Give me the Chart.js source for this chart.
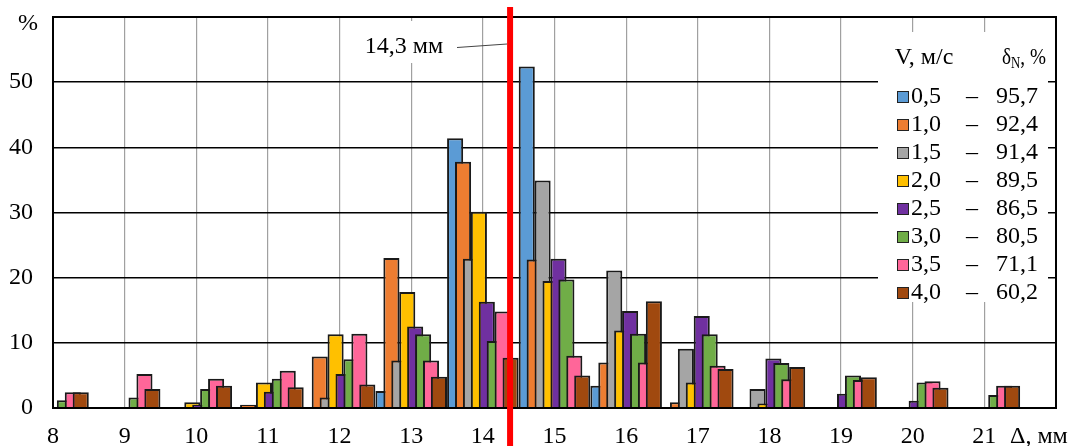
<!DOCTYPE html>
<html>
<head>
<meta charset="utf-8">
<script src="https://cdn.jsdelivr.net/npm/chart.js@4.4.0/dist/chart.umd.min.js"></script>
<style>
    html, body { margin: 0; padding: 0; background: #fff; }
    #wrap { width: 1075px; height: 446px; }
</style>
</head>
<body>
<div id="wrap"><canvas id="chart" width="1075" height="446"></canvas></div>
<script>
// bins of gap size, mm
const bins = [8, 9, 10, 11, 12, 13, 14, 15, 16, 17, 18, 19, 20, 21];

// speed V, m/s and delta N, % (legend)
const speeds = ['0,5', '1,0', '1,5', '2,0', '2,5', '3,0', '3,5', '4,0'];
const deltaN = ['95,7', '92,4', '91,4', '89,5', '86,5', '80,5', '71,1', '60,2'];

// share of samples per bin, %
const v05 = [0, 0, 0, 0, 0, 2.6, 41.4, 52.4, 3.4, 0, 0, 0, 0, 0];
const v10 = [0, 0, 0, 0.5, 7.9, 23.0, 37.8, 22.8, 7.0, 0.9, 0, 0, 0, 0];
const v15 = [0, 0, 0, 0, 1.6, 7.3, 22.9, 34.9, 21.1, 9.1, 2.9, 0, 0, 0];
const v20 = [0, 0, 0.9, 3.9, 11.3, 17.8, 30.1, 19.5, 11.9, 3.9, 0.7, 0, 0, 0];
const v25 = [0, 0, 0.5, 2.5, 5.2, 12.5, 16.3, 22.9, 14.9, 14.1, 7.6, 2.2, 1.1, 0];
const v30 = [1.2, 1.6, 2.9, 4.5, 7.5, 11.3, 10.3, 19.7, 11.4, 11.3, 6.9, 5.0, 3.9, 2.0];
const v35 = [2.4, 5.2, 4.5, 5.7, 11.4, 7.3, 14.8, 8.0, 7.0, 6.5, 4.4, 4.3, 4.1, 3.4];
const v40 = [2.4, 2.9, 3.4, 3.2, 3.6, 4.8, 7.7, 5.0, 16.4, 6.0, 6.3, 4.7, 3.1, 3.4];

const seriesValues = [v05, v10, v15, v20, v25, v30, v35, v40];

// mean gap marker
const markValue = 14.38;
const markLabel = '14,3 мм';

const colors = ['#5B9BD5', '#ED7D31', '#A5A5A5', '#FFC000', '#7030A0', '#70AD47', '#FF6699', '#A0490F'];
const FONT = 'Liberation Serif';

function toPoints(values) {
    return bins.map((b, i) => ({ x: b, y: values[i] === 0 ? null : values[i] }));
}

// Excel draws each later series on top of (and right of) the previous one.
// Chart.js puts the first dataset leftmost and on top, so the series go in
// reversed and the slot direction is flipped with negative percentages.
const datasets = seriesValues.map((vals, i) => ({
    label: speeds[i],
    data: toPoints(vals),
    backgroundColor: colors[i],
    borderColor: '#1a1a1a',
    borderWidth: 2,
    categoryPercentage: -0.885,
    barPercentage: -2.03
})).reverse();

const overlay = {
    id: 'overlay',
    afterDatasetsDraw(chart) {
        const { ctx, chartArea: a, scales: { x } } = chart;
        ctx.save();

        // plot frame
        ctx.strokeStyle = '#000';
        ctx.lineWidth = 2;
        ctx.strokeRect(a.left, a.top, a.right - a.left, a.bottom - a.top);

        // legend box
        ctx.fillStyle = '#fff';
        ctx.fillRect(878, 32, 170, 270);
        ctx.fillStyle = '#000';
        ctx.font = `24px ${FONT}`;
        ctx.textBaseline = 'middle';
        ctx.textAlign = 'center';
        ctx.fillText('V, м/с', 924, 58);

        // header δN, % squeezed a bit like the original
        ctx.save();
        ctx.translate(1002, 0);
        ctx.scale(0.8, 1);
        ctx.textAlign = 'left';
        let hx = 0;
        ctx.fillText('δ', hx, 58);
        hx += ctx.measureText('δ').width;
        ctx.font = `16px ${FONT}`;
        ctx.fillText('N', hx, 64);
        hx += ctx.measureText('N').width;
        ctx.font = `24px ${FONT}`;
        ctx.fillText(', %', hx, 58);
        ctx.restore();

        speeds.forEach((s, i) => {
            const y = 97 + i * 28;
            ctx.fillStyle = colors[i];
            ctx.fillRect(897, y - 6, 12, 12);
            ctx.strokeStyle = '#222';
            ctx.lineWidth = 1;
            ctx.strokeRect(897.5, y - 5.5, 11, 11);
            ctx.fillStyle = '#000';
            ctx.textAlign = 'left';
            ctx.fillText(s, 911, y);
            ctx.textAlign = 'center';
            ctx.fillText('–', 972, y);
            ctx.textAlign = 'right';
            ctx.fillText(deltaN[i], 1038, y);
        });

        // marker label
        const xm = x.getPixelForValue(markValue);
        ctx.fillStyle = '#fff';
        ctx.fillRect(356, 21, 96, 42);
        ctx.fillStyle = '#000';
        ctx.textAlign = 'center';
        ctx.fillText(markLabel, 404, 47);
        ctx.strokeStyle = '#444';
        ctx.lineWidth = 1;
        ctx.beginPath();
        ctx.moveTo(457, 47.5);
        ctx.lineTo(xm - 3, 44);
        ctx.stroke();

        // marker line
        ctx.strokeStyle = '#ff0000';
        ctx.lineWidth = 6;
        ctx.beginPath();
        ctx.moveTo(xm, 7);
        ctx.lineTo(xm, chart.height);
        ctx.stroke();

        // axis titles
        ctx.fillStyle = '#000';
        ctx.font = `24px ${FONT}`;
        ctx.textAlign = 'center';
        ctx.fillText('%', 28, 24);
        ctx.textAlign = 'left';
        ctx.fillText('Δ, мм', 1010, 437);

        ctx.restore();
    }
};

new Chart(document.getElementById('chart'), {
    type: 'bar',
    data: { datasets },
    plugins: [overlay],
    options: {
        responsive: false,
        animation: false,
        layout: { padding: { top: 17, right: 19, left: 0, bottom: 0 } },
        plugins: {
            legend: { display: false },
            tooltip: { enabled: false }
        },
        scales: {
            x: {
                type: 'linear',
                min: 8,
                max: 22,
                offset: false,
                grid: { offset: false, color: '#a0a0a0', lineWidth: 1.2, drawTicks: false },
                border: { color: '#000', width: 2 },
                ticks: {
                    stepSize: 1,
                    padding: 14,
                    maxRotation: 0,
                    autoSkip: false,
                    color: '#000',
                    font: { family: FONT, size: 24 },
                    callback: v => v < 22 ? v : ''
                },
                afterFit: s => {
                    s.height = 38;
                    s.paddingLeft = 0;
                    s.paddingRight = 0;
                }
            },
            y: {
                min: 0,
                max: 60,
                grid: { color: '#000', lineWidth: 1.5, drawTicks: false },
                border: { color: '#000', width: 2 },
                ticks: {
                    stepSize: 10,
                    padding: 20,
                    color: '#000',
                    font: { family: FONT, size: 24 },
                    callback: v => v < 60 ? v : ''
                },
                afterFit: s => {
                    s.width = 53;
                    s.paddingTop = 0;
                    s.paddingBottom = 0;
                }
            }
        }
    }
});
</script>
</body>
</html>
